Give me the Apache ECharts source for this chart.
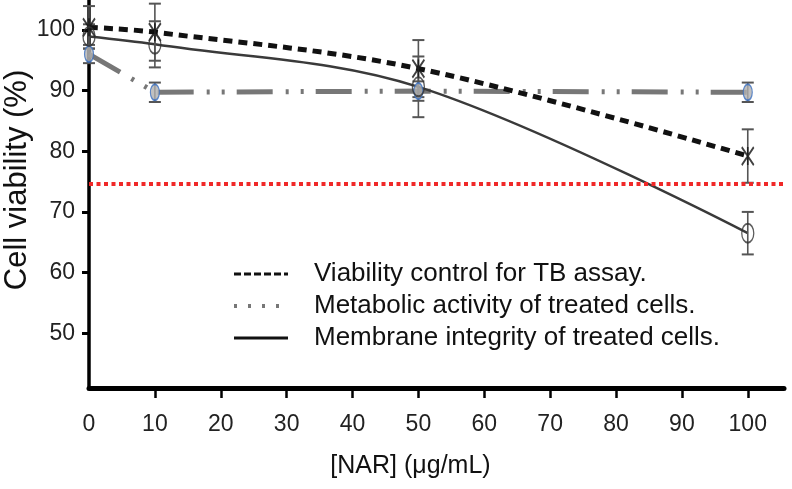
<!DOCTYPE html>
<html>
<head>
<meta charset="utf-8">
<script src="https://cdn.jsdelivr.net/npm/echarts@6/dist/echarts.min.js"></script>
<style>
html,body{margin:0;padding:0;background:#fff;}
#chart{width:792px;height:489px;}
</style>
</head>
<body>
<div id="chart"></div>
<script>
// ---- data ----
const concentrations = [0, 10, 50, 100];
const viabilityControl = [100.4, 99.6, 93.6, 79.2];
const viabilityControlErr = [3.5, 4.7, 4.7, 4.4];
const metabolicActivity = [96.0, 89.7, 89.9, 89.7];
const metabolicActivityErr = [1.5, 1.6, 1.6, 1.6];
const membraneIntegrity = [98.9, 97.6, 90.6, 66.5];
const membraneIntegrityErr = [2.0, 3.8, 5.0, 3.5];
const thresholdValue = 74.7;
const xTicks = [10, 20, 30, 40, 50, 60, 70, 80, 90, 100];
const xLabels = [0, 10, 20, 30, 40, 50, 60, 70, 80, 90, 100];
const yTicks = [50, 60, 70, 80, 90, 100];
const seriesNames = [
  'Viability control for TB assay.',
  'Metabolic activity of treated cells.',
  'Membrane integrity of treated cells.'
];
const xTitle = '[NAR] (μg/mL)';
const yTitle = 'Cell viability (%)';

// ---- helpers ----
const pairs = (vals) => concentrations.map((x, i) => [x, vals[i]]);
const errRows = (vals, errs) => concentrations.map((x, i) => [x, vals[i] - errs[i], vals[i] + errs[i]]);

function errorBarSeries(vals, errs) {
  return {
    type: 'custom',
    silent: true,
    z: 4,
    encode: { x: 0, y: [1, 2] },
    data: errRows(vals, errs),
    renderItem: function (params, api) {
      const x = api.value(0);
      const lo = api.coord([x, api.value(1)]);
      const hi = api.coord([x, api.value(2)]);
      const w = 6;
      const st = { stroke: '#555', lineWidth: 1.6 };
      const cap = { stroke: '#555', lineWidth: 2 };
      return {
        type: 'group',
        children: [
          { type: 'line', shape: { x1: lo[0], y1: lo[1], x2: hi[0], y2: hi[1] }, style: st },
          { type: 'line', shape: { x1: lo[0] - w, y1: lo[1], x2: lo[0] + w, y2: lo[1] }, style: cap },
          { type: 'line', shape: { x1: hi[0] - w, y1: hi[1], x2: hi[0] + w, y2: hi[1] }, style: cap }
        ]
      };
    }
  };
}

const chart = echarts.init(document.getElementById('chart'), null, { renderer: 'canvas' });
const font = 'Liberation Sans, Arial, Helvetica, sans-serif';

chart.setOption({
  backgroundColor: '#ffffff',
  animation: false,
  textStyle: { fontFamily: font },
  grid: { left: 89, right: 8, top: 0, bottom: 101, containLabel: false, outerBoundsMode: 'none' },
  legend: {
    orient: 'vertical',
    left: 227,
    top: 256,
    itemWidth: 54,
    itemHeight: 14,
    itemGap: 6,
    data: [
      { name: seriesNames[0], lineStyle: { width: 3, type: [7, 3], color: '#111' } },
      { name: seriesNames[1], lineStyle: { width: 4, type: [3, 11], color: '#777' } },
      { name: seriesNames[2], lineStyle: { width: 3, type: 'solid', color: '#111' } }
    ],
    itemStyle: { opacity: 0 },
    textStyle: { fontSize: 26, color: '#111', fontFamily: font, padding: [0, 0, 0, 21] },
    selectedMode: false
  },
  xAxis: {
    type: 'value',
    min: 0,
    max: 105.5,
    name: xTitle,
    nameLocation: 'middle',
    nameGap: 66,
    nameMoveOverlap: false,
    nameTextStyle: { fontSize: 25, color: '#111', fontFamily: font, padding: [0, 52, 0, 0] },
    axisLine: { show: true, onZero: false, lineStyle: { color: '#000', width: 5 } },
    axisTick: { show: true, length: 10, customValues: xTicks, lineStyle: { color: '#000', width: 2.5 } },
    axisLabel: { customValues: xLabels, fontSize: 23, color: '#222', margin: 25, fontFamily: font },
    splitLine: { show: false }
  },
  yAxis: {
    type: 'value',
    min: 41,
    max: 104.9,
    name: yTitle,
    nameLocation: 'middle',
    nameGap: 56,
    nameRotate: 90,
    nameMoveOverlap: false,
    nameTextStyle: { fontSize: 31, color: '#111', fontFamily: font, padding: [0, 0, 0, 28] },
    axisLine: { show: true, onZero: false, lineStyle: { color: '#000', width: 3.5 } },
    axisTick: { show: true, length: 7, customValues: yTicks, lineStyle: { color: '#000', width: 3 } },
    axisLabel: { customValues: yTicks, fontSize: 23, color: '#222', margin: 14, fontFamily: font },
    splitLine: { show: false }
  },
  series: [
    {
      name: seriesNames[0],
      type: 'line',
      data: pairs(viabilityControl),
      smooth: 0.35,
      symbol: 'none',
      z: 3,
      lineStyle: { color: '#111', width: 5, type: [9, 6], cap: 'butt' },
      itemStyle: { color: '#111' }
    },
    {
      name: seriesNames[1],
      type: 'line',
      data: pairs(metabolicActivity),
      symbol: 'none',
      z: 2,
      lineStyle: { color: '#777', width: 5, type: [36, 13, 3, 12, 3, 12], cap: 'butt' },
      itemStyle: { color: '#777' }
    },
    {
      name: seriesNames[2],
      type: 'line',
      data: pairs(membraneIntegrity),
      smooth: 0.35,
      symbol: 'none',
      z: 3,
      lineStyle: { color: '#3a3a3a', width: 2.5 },
      itemStyle: { color: '#333' },
      markLine: {
        silent: true,
        symbol: ['none', 'none'],
        label: { show: false },
        lineStyle: { color: '#f02828', width: 4, type: [4, 3.5], cap: 'butt' },
        data: [{ yAxis: thresholdValue }]
      }
    },
    errorBarSeries(viabilityControl, viabilityControlErr),
    errorBarSeries(metabolicActivity, metabolicActivityErr),
    errorBarSeries(membraneIntegrity, membraneIntegrityErr),
    {
      type: 'scatter',
      silent: true,
      z: 6,
      data: pairs(viabilityControl),
      symbol: 'path://M0,0L10,14M10,0L0,14M5,0L5,14',
      symbolSize: [12, 18],
      itemStyle: { color: '#111', borderColor: '#111', borderWidth: 2 }
    },
    {
      type: 'scatter',
      silent: true,
      z: 6,
      data: pairs(metabolicActivity),
      symbol: 'circle',
      symbolSize: [9, 16],
      itemStyle: { color: '#b0b0b0', borderColor: '#3a6fc0', borderWidth: 1.5 }
    },
    {
      type: 'scatter',
      silent: true,
      z: 6,
      data: pairs(membraneIntegrity),
      symbol: 'circle',
      symbolSize: [12, 19],
      itemStyle: { color: 'rgba(255,255,255,0)', borderColor: '#333', borderWidth: 1.6 }
    }
  ]
});
</script>
</body>
</html>
